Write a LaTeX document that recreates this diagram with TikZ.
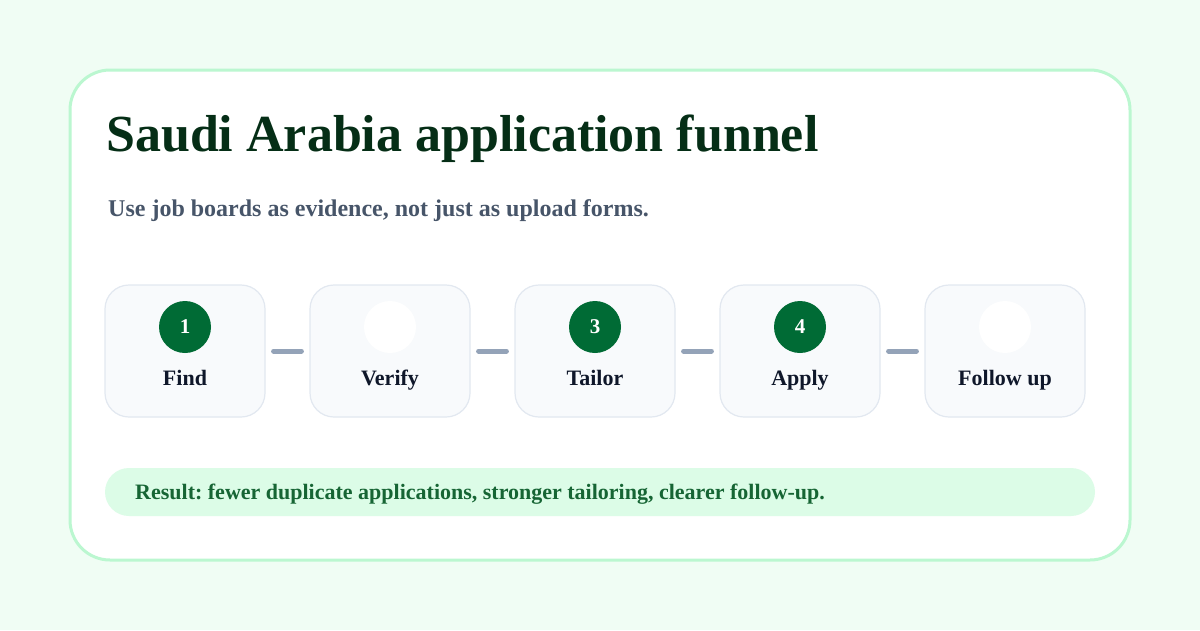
\documentclass[tikz,border=0pt]{standalone}
\usepackage{fontspec}
\setmainfont{Liberation Serif}
\frenchspacing
\definecolor{pagebg}{HTML}{F0FDF4}
\definecolor{cardborder}{HTML}{BBF7D0}
\definecolor{titlecol}{HTML}{052E16}
\definecolor{subcol}{HTML}{475569}
\definecolor{stepfill}{HTML}{F8FAFC}
\definecolor{stepborder}{HTML}{E2E8F0}
\definecolor{numfill}{HTML}{006B35}
\definecolor{labelcol}{HTML}{0F172A}
\definecolor{linkcol}{HTML}{94A3B8}
\definecolor{resfill}{HTML}{DCFCE7}
\definecolor{rescol}{HTML}{166534}
\tikzset{
  stepbox/.style={draw=stepborder, line width=1.2pt, fill=stepfill, rounded corners=24pt, minimum width=160pt, minimum height=132pt, inner sep=0pt},
  numdot/.style={circle, fill=numfill, minimum size=52pt, inner sep=0pt, text=white, font=\fontsize{21}{25}\selectfont\bfseries},
  blankdot/.style={circle, fill=white, minimum size=52pt, inner sep=0pt},
  steplabel/.style={text=labelcol, font=\fontsize{22}{26}\selectfont\bfseries, anchor=base},
  link/.style={draw=linkcol, line width=5pt, line cap=round, shorten <=8pt, shorten >=8pt},
}
\begin{document}
\begin{tikzpicture}[x=1pt,y=-1pt]
\useasboundingbox (0,0) rectangle (1200,630);
\fill[pagebg] (0,0) rectangle (1200,630);
\draw[cardborder, line width=3pt, fill=white, rounded corners=40pt] (70,70) rectangle (1130,560);
\node[anchor=base west, inner sep=0pt, text=titlecol, font=\fontsize{52}{62}\selectfont\bfseries] (title) at (106,151) {Saudi Arabia application funnel};
\node[anchor=base west, inner sep=0pt, text=subcol, font=\fontsize{24}{28}\selectfont\bfseries] (sub) at (108,216) {Use job boards as evidence, not just as upload forms.};
\node[stepbox] (s1) at (185,351) {};
\node[stepbox] (s2) at (390,351) {};
\node[stepbox] (s3) at (595,351) {};
\node[stepbox] (s4) at (800,351) {};
\node[stepbox] (s5) at (1005,351) {};
\node[numdot] (c1) at (185,327) {1};
\node[blankdot] (c2) at (390,327) {};
\node[numdot] (c3) at (595,327) {3};
\node[numdot] (c4) at (800,327) {4};
\node[blankdot] (c5) at (1005,327) {};
\node[steplabel] (l1) at (185,385) {Find};
\node[steplabel] (l2) at (390,385) {Verify};
\node[steplabel] (l3) at (595,385) {Tailor};
\node[steplabel] (l4) at (800,385) {Apply};
\node[steplabel] (l5) at (1005,385) {Follow up};
\draw[link] (s1.east) -- (s2.west);
\draw[link] (s2.east) -- (s3.west);
\draw[link] (s3.east) -- (s4.west);
\draw[link] (s4.east) -- (s5.west);
\fill[resfill, rounded corners=24pt] (105,468) rectangle (1095,516);
\node[anchor=base west, inner sep=0pt, text=rescol, font=\fontsize{22}{26}\selectfont\bfseries] (res) at (135,499) {Result: fewer duplicate applications, stronger tailoring, clearer follow-up.};
\end{tikzpicture}
\end{document}
